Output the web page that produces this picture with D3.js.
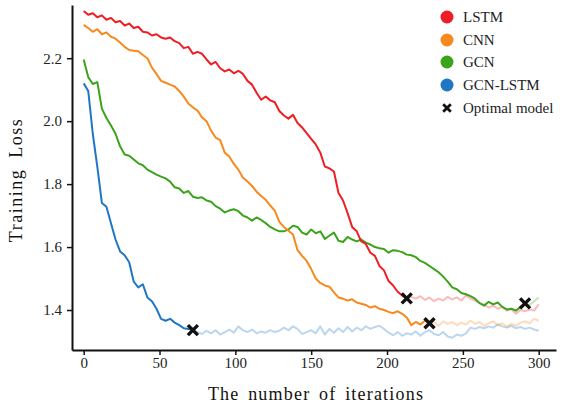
<!DOCTYPE html>
<html><head><meta charset="utf-8">
<script src="https://cdn.jsdelivr.net/npm/d3@7"></script>
<style>body{margin:0;background:#fff} svg{display:block} text{font-family:'Liberation Serif','Times New Roman',serif}</style>
</head><body><svg id="c" width="564" height="407"></svg>
<script>
const iterations = d3.range(0, 301, 3);
const seriesNames = ["LSTM", "CNN", "GCN", "GCN-LSTM"];
const lstmLoss = [
 2.350, 2.338, 2.343, 2.330, 2.336, 2.322, 2.328, 2.314, 2.318, 2.304,
 2.310, 2.296, 2.300, 2.284, 2.282, 2.272, 2.276, 2.266, 2.262, 2.266,
 2.254, 2.248, 2.232, 2.236, 2.214, 2.220, 2.214, 2.196, 2.180, 2.188,
 2.168, 2.158, 2.164, 2.152, 2.160, 2.150, 2.128, 2.116, 2.090, 2.068,
 2.078, 2.066, 2.060, 2.032, 2.018, 2.008, 2.020, 1.994, 1.980, 1.962,
 1.944, 1.926, 1.900, 1.856, 1.850, 1.840, 1.772, 1.748, 1.708, 1.664,
 1.650, 1.618, 1.610, 1.582, 1.572, 1.540, 1.526, 1.492, 1.478, 1.458,
 1.446, 1.437, 1.442, 1.436, 1.444, 1.432, 1.440, 1.428, 1.436, 1.430,
 1.442, 1.434, 1.440, 1.430, 1.446, 1.436, 1.430, 1.422, 1.418, 1.408,
 1.414, 1.404, 1.410, 1.398, 1.402, 1.388, 1.400, 1.396, 1.402, 1.398,
 1.418];
const cnnLoss = [
 2.306, 2.296, 2.284, 2.292, 2.276, 2.282, 2.268, 2.262, 2.250, 2.236,
 2.226, 2.224, 2.222, 2.210, 2.200, 2.170, 2.150, 2.128, 2.122, 2.116,
 2.110, 2.096, 2.078, 2.056, 2.044, 2.034, 2.012, 2.000, 1.970, 1.948,
 1.940, 1.900, 1.888, 1.864, 1.846, 1.820, 1.808, 1.794, 1.776, 1.762,
 1.750, 1.732, 1.716, 1.680, 1.664, 1.652, 1.640, 1.590, 1.572, 1.556,
 1.530, 1.500, 1.486, 1.478, 1.474, 1.456, 1.440, 1.436, 1.430, 1.434,
 1.424, 1.420, 1.416, 1.408, 1.412, 1.404, 1.400, 1.394, 1.390, 1.396,
 1.388, 1.376, 1.352, 1.362, 1.354, 1.366, 1.358, 1.362, 1.350, 1.364,
 1.356, 1.362, 1.352, 1.360, 1.354, 1.366, 1.356, 1.362, 1.350, 1.358,
 1.364, 1.352, 1.358, 1.348, 1.356, 1.350, 1.360, 1.364, 1.358, 1.372,
 1.366];
const gcnLoss = [
 2.196, 2.140, 2.118, 2.124, 2.040, 2.010, 1.986, 1.960, 1.920, 1.894,
 1.890, 1.878, 1.866, 1.860, 1.846, 1.838, 1.830, 1.824, 1.818, 1.808,
 1.790, 1.786, 1.772, 1.778, 1.760, 1.756, 1.758, 1.748, 1.744, 1.730,
 1.722, 1.710, 1.716, 1.720, 1.714, 1.700, 1.694, 1.684, 1.694, 1.686,
 1.676, 1.664, 1.656, 1.650, 1.650, 1.656, 1.668, 1.664, 1.646, 1.640,
 1.656, 1.644, 1.650, 1.626, 1.636, 1.646, 1.620, 1.616, 1.632, 1.624,
 1.618, 1.624, 1.614, 1.608, 1.600, 1.596, 1.594, 1.582, 1.590, 1.588,
 1.584, 1.576, 1.574, 1.568, 1.556, 1.550, 1.540, 1.530, 1.520, 1.506,
 1.490, 1.472, 1.466, 1.454, 1.450, 1.444, 1.436, 1.422, 1.414, 1.426,
 1.418, 1.424, 1.410, 1.402, 1.404, 1.398, 1.410, 1.421, 1.416, 1.428,
 1.440];
const gcnLstmLoss = [
 2.120, 2.096, 1.960, 1.855, 1.740, 1.728, 1.676, 1.624, 1.586, 1.574,
 1.552, 1.490, 1.472, 1.482, 1.440, 1.428, 1.404, 1.372, 1.366, 1.372,
 1.360, 1.352, 1.342, 1.340, 1.336, 1.330, 1.324, 1.334, 1.326, 1.336,
 1.322, 1.330, 1.338, 1.328, 1.348, 1.336, 1.330, 1.338, 1.326, 1.332,
 1.328, 1.336, 1.330, 1.334, 1.344, 1.336, 1.348, 1.340, 1.324, 1.330,
 1.336, 1.326, 1.348, 1.322, 1.340, 1.328, 1.342, 1.330, 1.346, 1.332,
 1.344, 1.336, 1.348, 1.340, 1.346, 1.350, 1.340, 1.328, 1.320, 1.330,
 1.318, 1.326, 1.322, 1.332, 1.318, 1.330, 1.336, 1.324, 1.320, 1.330,
 1.316, 1.312, 1.322, 1.318, 1.326, 1.344, 1.340, 1.346, 1.342, 1.348,
 1.344, 1.354, 1.348, 1.344, 1.350, 1.342, 1.346, 1.340, 1.344, 1.338,
 1.334];
const optimalIterations = [213, 228, 291, 72];
const xTicks = [0, 50, 100, 150, 200, 250, 300];
const yTicks = [1.4, 1.6, 1.8, 2.0, 2.2];
const colors = ["#ef1d25", "#f7891f", "#3ba41c", "#1f77c4"];
const legendLabels = ["LSTM", "CNN", "GCN", "GCN-LSTM", "Optimal model"];

const allLoss = [lstmLoss, cnnLoss, gcnLoss, gcnLstmLoss];
const FONT = "'Liberation Serif', 'Times New Roman', serif";

const svg = d3.select("#c");
const x = d3.scaleLinear().domain([-7.7, 311.4]).range([72, 556]);
const y = d3.scaleLinear().domain([1.273, 2.369]).range([350, 5]);

const line = d3.line().x(d => x(d[0])).y(d => y(d[1])).curve(d3.curveLinear);

const series = seriesNames.map((name, i) => {
  const pts = iterations.map((t, k) => [t, allLoss[i][k]]);
  const oi = iterations.indexOf(optimalIterations[i]);
  return {name, color: colors[i], pts, oi};
});

const order = [3, 2, 1, 0];
order.forEach(i => {
  const s = series[i];
  svg.append("path").attr("d", line(s.pts.slice(s.oi)))
    .attr("fill", "none").attr("stroke", s.color).attr("stroke-opacity", 0.3)
    .attr("stroke-width", 2).attr("stroke-linejoin", "round");
});
order.forEach(i => {
  const s = series[i];
  svg.append("path").attr("d", line(s.pts.slice(0, s.oi + 1)))
    .attr("fill", "none").attr("stroke", s.color)
    .attr("stroke-width", 2).attr("stroke-linejoin", "round");
});

const cross = r => `M${-r},${-r}L${r},${r}M${-r},${r}L${r},${-r}`;
series.forEach(s => {
  const p = s.pts[s.oi];
  svg.append("path").attr("d", cross(5))
    .attr("transform", `translate(${x(p[0])},${y(p[1])})`)
    .attr("stroke", "#111").attr("stroke-width", 3.4).attr("fill", "none");
});

const xAxis = svg.append("g").attr("transform", "translate(0,350)")
  .call(d3.axisBottom(x).tickValues(xTicks).tickSize(5).tickSizeOuter(0).tickPadding(2).tickFormat(d3.format("d")));
const yAxis = svg.append("g").attr("transform", "translate(72,0)")
  .call(d3.axisLeft(y).tickValues(yTicks).tickSize(5).tickSizeOuter(0).tickPadding(5).tickFormat(d3.format(".1f")));
[xAxis, yAxis].forEach(g => {
  g.attr("font-family", null).style("font-family", FONT).attr("font-size", 15);
  g.select(".domain").attr("stroke", "#111").attr("stroke-width", 2);
  g.selectAll(".tick line").attr("stroke", "#111").attr("stroke-width", 1.5);
  g.selectAll("text").style("font-family", FONT).style("font-size", "15px").attr("fill", "#222");
});

svg.append("text").attr("x", 316).attr("y", 400).attr("text-anchor", "middle")
  .style("font-family", FONT).style("font-size", "18px").attr("fill", "#111")
  .style("letter-spacing", "1.2px").style("word-spacing", "3px")
  .text("The number of iterations");
svg.append("text").attr("transform", "translate(22,180) rotate(-90)").attr("text-anchor", "middle")
  .style("font-family", FONT).style("font-size", "18px").attr("fill", "#111")
  .style("letter-spacing", "1.5px").style("word-spacing", "5px")
  .text("Training Loss");

const legY = [17, 40, 62, 85, 108];
legendLabels.forEach((lab, i) => {
  const g = svg.append("g").attr("transform", `translate(447,${legY[i]})`);
  if (i < 4) g.append("circle").attr("r", 6.5).attr("fill", colors[i]);
  else g.append("path").attr("d", cross(3.8)).attr("stroke", "#111").attr("stroke-width", 2.8).attr("fill", "none");
  g.append("text").attr("x", 16).attr("y", 0).attr("dy", "0.35em")
    .style("font-family", FONT).style("font-size", "15px").attr("fill", "#222").text(lab);
});
</script></body></html>
